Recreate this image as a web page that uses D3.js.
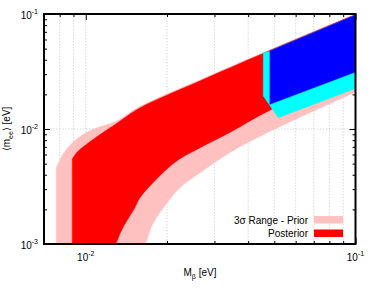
<!DOCTYPE html>
<html>
<head>
<meta charset="utf-8">
<script src="https://cdn.jsdelivr.net/npm/d3@7"></script>
<style>
  body { margin: 0; background: #fff; }
  text { font-family: "Liberation Sans", Arial, sans-serif; font-size: 10px; fill: #000; }
</style>
</head>
<body>
<div id="chart"></div>
<script>
// boundaries of the bands, [M_beta, m_ee] in eV
// (first point of an upper edge is the foot of its vertical left side)
const priorUpper = [[0.00777, 0.001], [0.00777, 0.00458], [0.00829, 0.00619], [0.00926, 0.00819],
  [0.01071, 0.01], [0.01303, 0.01174], [0.01585, 0.01569], [0.02644, 0.02668], [0.04603, 0.04674], [0.1, 0.1]];
const priorLower = [[0.01668, 0.001], [0.01682, 0.00106], [0.01771, 0.00149], [0.02, 0.00227],
  [0.02229, 0.00307], [0.02644, 0.00414], [0.03503, 0.00644], [0.04603, 0.00905], [0.1, 0.02098]];

const postUpper = [[0.00891, 0.001], [0.00891, 0.00548], [0.00926, 0.00625], [0.01009, 0.00741],
  [0.01166, 0.00942], [0.01292, 0.01105], [0.01585, 0.01522], [0.02644, 0.02615], [0.04603, 0.04609], [0.1, 0.099]];
const postLower = [[0.01292, 0.001], [0.01371, 0.00138], [0.01519, 0.00206], [0.01585, 0.00251],
  [0.01771, 0.00339], [0.02, 0.00449], [0.02229, 0.00548], [0.02644, 0.00684], [0.03503, 0.00961],
  [0.04603, 0.01377], [0.1, 0.03194]];

const ioPriorUpper = [[0.04551, 0.04609], [0.04815, 0.04768], [0.1, 0.098]];
const ioPriorLower = [[0.04551, 0.01936], [0.05173, 0.01254], [0.1, 0.02245]];
const ioPostUpper = [[0.04815, 0.04768], [0.1, 0.098]];
const ioPostLower = [[0.04815, 0.0164], [0.1, 0.0313]];

const xMajor = [0.01, 0.1];
const xMinor = [0.008, 0.009, 0.02, 0.03, 0.04, 0.05, 0.06, 0.07, 0.08, 0.09];
const yMajor = [0.001, 0.01, 0.1];
const yMinor = [0.002, 0.003, 0.004, 0.005, 0.006, 0.007, 0.008, 0.009,
  0.02, 0.03, 0.04, 0.05, 0.06, 0.07, 0.08, 0.09];
const xLabels = [["10", "-2"], ["10", "-1"]];
const yLabels = [["10", "-3"], ["10", "-2"], ["10", "-1"]];
const legendItems = ["3σ Range - Prior", "Posterior"];
const legendColors = ["#ffc0c0", "#ff0000"];

const W = 374, H = 293;
const pL = 44, pR = 355.5, pT = 14, pB = 244;

const svg = d3.select("#chart").append("svg")
  .attr("width", W)
  .attr("height", H);

const x = d3.scaleLog().domain([0.007, 0.1]).range([pL, pR]);
const y = d3.scaleLog().domain([0.001, 0.1]).range([pB, pT]);

svg.append("clipPath").attr("id", "plot")
  .append("rect")
  .attr("x", pL).attr("y", pT)
  .attr("width", pR - pL).attr("height", pB - pT);

// grid
const grid = svg.append("g")
  .attr("stroke", "#c8c8c8")
  .attr("stroke-width", 0.7)
  .attr("stroke-dasharray", "1.5,1.5");
grid.selectAll("line.gx")
  .data(xMinor.concat([0.01]))
  .enter().append("line")
  .attr("x1", d => x(d)).attr("x2", d => x(d))
  .attr("y1", pT).attr("y2", pB);
grid.append("line")
  .attr("x1", pL).attr("x2", pR)
  .attr("y1", y(0.01)).attr("y2", y(0.01));

// ticks (inward, mirrored, behind the bands)
function ticks(axis, pos, values, size) {
  const g = svg.append("g")
    .attr("transform", pos)
    .call(axis.tickValues(values).tickSize(-size).tickFormat(""));
  g.select(".domain").remove();
  g.selectAll("line").attr("stroke", "#000").attr("stroke-width", 1);
}
ticks(d3.axisBottom(x), `translate(0,${pB})`, xMajor, 6);
ticks(d3.axisBottom(x), `translate(0,${pB})`, xMinor, 3);
ticks(d3.axisTop(x), `translate(0,${pT})`, xMajor, 6);
ticks(d3.axisTop(x), `translate(0,${pT})`, xMinor, 3);
ticks(d3.axisLeft(y), `translate(${pL},0)`, yMajor, 6);
ticks(d3.axisLeft(y), `translate(${pL},0)`, yMinor, 3);
ticks(d3.axisRight(y), `translate(${pR},0)`, yMajor, 6);
ticks(d3.axisRight(y), `translate(${pR},0)`, yMinor, 3);

// bands
const smooth = d3.line().x(d => x(d[0])).y(d => y(d[1])).curve(d3.curveCatmullRom.alpha(0.5));
const straight = d3.line().x(d => x(d[0])).y(d => y(d[1]));
const bands = svg.append("g").attr("clip-path", "url(#plot)");

// curved NO bands: vertical left side, smooth upper edge, smooth lower edge back
function curvedBand(upper, lower, color) {
  const up = smooth(upper.slice(1));
  const low = smooth(lower.slice().reverse());
  const d = straight(upper.slice(0, 1)) + "L" + up.slice(1) + "L" + low.slice(1) + "Z";
  bands.append("path")
    .attr("d", d)
    .attr("fill", color)
    .attr("stroke", color)
    .attr("stroke-width", 0.4);
}
function band(upper, lower, color) {
  bands.append("path")
    .attr("d", straight(upper.concat(lower.slice().reverse())) + "Z")
    .attr("fill", color)
    .attr("stroke", color)
    .attr("stroke-width", 0.4);
}
curvedBand(priorUpper, priorLower, "#ffc0c0");
curvedBand(postUpper, postLower, "#ff0000");
band(ioPriorUpper, ioPriorLower, "#00ffff");
band(ioPostUpper, ioPostLower, "#0000ff");

// frame
svg.append("rect")
  .attr("x", pL).attr("y", pT)
  .attr("width", pR - pL).attr("height", pB - pT)
  .attr("fill", "none")
  .attr("stroke", "#000")
  .attr("stroke-width", 2);

// tick labels
const xl = svg.selectAll("text.xl")
  .data(xMajor)
  .enter().append("text")
  .attr("x", d => x(d))
  .attr("y", pB + 16.5)
  .attr("text-anchor", "middle");
xl.append("tspan").text((d, i) => xLabels[i][0]);
xl.append("tspan").attr("dy", -4.5).attr("font-size", "7px").text((d, i) => xLabels[i][1]);

const yl = svg.selectAll("text.yl")
  .data(yMajor)
  .enter().append("text")
  .attr("x", pL - 6)
  .attr("y", d => y(d) + 4.5)
  .attr("text-anchor", "end");
yl.append("tspan").text((d, i) => yLabels[i][0]);
yl.append("tspan").attr("dy", -4.5).attr("font-size", "7px").text((d, i) => yLabels[i][1]);

// axis titles
const xt = svg.append("text")
  .attr("x", 200)
  .attr("y", 276)
  .attr("text-anchor", "middle");
xt.append("tspan").text("M");
xt.append("tspan").attr("dy", 3).attr("font-size", "7px").text("β");
xt.append("tspan").attr("dy", -3).text(" [eV]");

const yt = svg.append("text")
  .attr("transform", `translate(10,${(pT + pB) / 2}) rotate(-90)`)
  .attr("text-anchor", "middle");
yt.append("tspan").text("⟨m");
yt.append("tspan").attr("dy", 3).attr("font-size", "7px").text("ee");
yt.append("tspan").attr("dy", -3).text("⟩ [eV]");

// legend
const legend = svg.append("g");
legend.selectAll("text")
  .data(legendItems)
  .enter().append("text")
  .attr("x", 308)
  .attr("y", (d, i) => 224 + i * 12.5)
  .attr("text-anchor", "end")
  .text(d => d);
legend.selectAll("rect")
  .data(legendColors)
  .enter().append("rect")
  .attr("x", 314)
  .attr("y", (d, i) => 216 + i * 13.5)
  .attr("width", 29)
  .attr("height", 7.5)
  .attr("fill", d => d);
</script>
</body>
</html>
